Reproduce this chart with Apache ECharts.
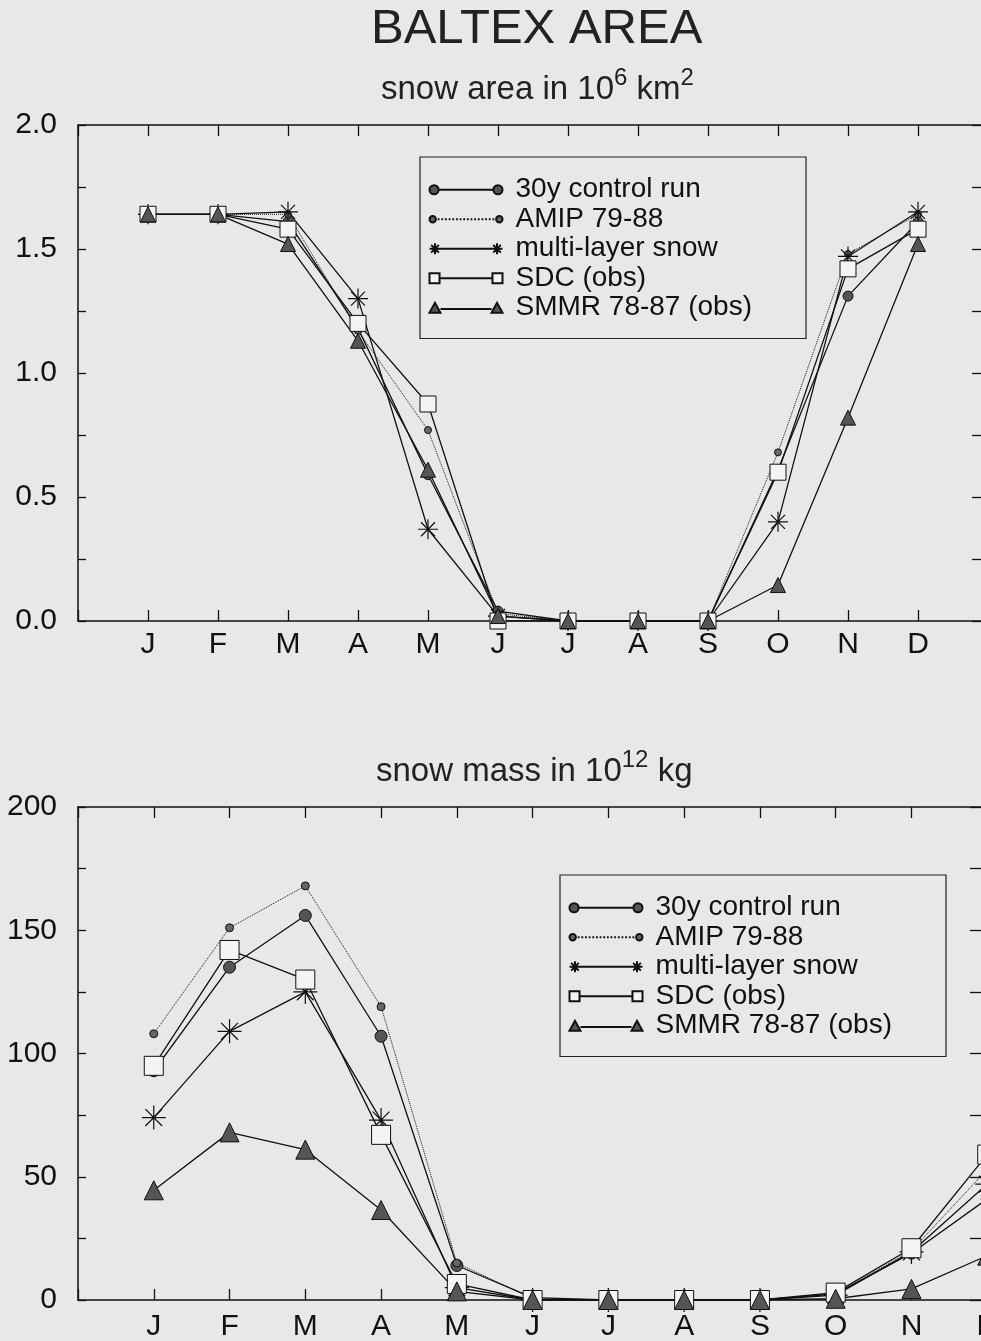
<!DOCTYPE html>
<html>
<head>
<meta charset="utf-8">
<title>BALTEX AREA</title>
<script src="https://cdn.jsdelivr.net/npm/echarts@6/dist/echarts.min.js"></script>
<style>
  html, body { margin: 0; padding: 0; background: #e8e8e8; }
  #main { width: 981px; height: 1341px; }
</style>
</head>
<body>
<div id="main"></div>
<script>
var months = ['J', 'F', 'M', 'A', 'M', 'J', 'J', 'A', 'S', 'O', 'N', 'D'];
var seriesNames = ['30y control run', 'AMIP 79-88', 'multi-layer snow', 'SDC (obs)', 'SMMR 78-87 (obs)'];

// snow area in 10^6 km2, J..D
var areaControl = [1.64, 1.64, 1.61, 1.18, 0.59, 0.04, 0, 0, 0, 0.61, 1.31, 1.61];
var areaAmip    = [1.64, 1.64, 1.64, 1.17, 0.77, 0.03, 0, 0, 0, 0.68, 1.48, 1.64];
var areaMulti   = [1.64, 1.64, 1.65, 1.30, 0.37, 0.02, 0, 0, 0, 0.40, 1.47, 1.65];
var areaSdc     = [1.64, 1.64, 1.58, 1.20, 0.875, 0.0, 0, 0, 0, 0.60, 1.42, 1.58];
var areaSmmr    = [1.64, 1.64, 1.52, 1.13, 0.61, 0.02, 0, 0, 0, 0.145, 0.82, 1.52];

// snow mass in 10^12 kg, J..D
var massControl = [93, 135, 156, 107, 14, 1, 0, 0, 0, 2.5, 19, 41];
var massAmip    = [108, 151, 168, 119, 15, 0.5, 0, 0, 0, 2.5, 20, 53];
var massMulti   = [74, 109, 125, 73, 5, 0, 0, 0, 0, 2, 19.5, 47];
var massSdc     = [95, 142, 130, 67, 6.5, 0, 0, 0, 0, 3, 21, 59];
var massSmmr    = [44.5, 68, 61, 36.5, 3.5, 0, 0, 0, 0, 0.5, 4.5, 18];

var font = 'Liberation Sans';
var ink = '#111';
var star = 'path://M10 0L10 20M0 10L20 10M3 3L17 17M3 17L17 3';

// legend icons: marker -- line -- marker, like the original key
var dots = '';
for (var d = 9; d < 71; d += 4) dots += 'M' + d + ' 8L' + (d + 2) + ' 8';
var legendIcons = [
  'path://M0 8a5 5 0 1 0 10 0a5 5 0 1 0 -10 0ZM10 8L70 8M70 8a5 5 0 1 0 10 0a5 5 0 1 0 -10 0Z',
  'path://M0 8a3.5 3.5 0 1 0 7 0a3.5 3.5 0 1 0 -7 0Z' + dots + 'M73 8a3.5 3.5 0 1 0 7 0a3.5 3.5 0 1 0 -7 0Z',
  'path://M6 2L6 14M0 8L12 8M1.8 3.8L10.2 12.2M1.8 12.2L10.2 3.8M12 8L68 8' +
    'M74 2L74 14M68 8L80 8M69.8 3.8L78.2 12.2M69.8 12.2L78.2 3.8',
  'path://M0 2.5L11 2.5L11 13.5L0 13.5ZM11 8L69 8M69 2.5L80 2.5L80 13.5L69 13.5Z',
  'path://M0 13L6 2L12 13ZM12 9L68 9M68 13L74 2L80 13Z'
];

// marker look per series: [symbol, size top, size bottom, fill]
var looks = [
  ['circle', 10, 12, '#555'],
  ['circle', 7, 8, '#666'],
  [star, 20, 24, 'none'],
  ['rect', 16, 19, '#f4f4f4'],
  ['triangle', 15, 19, '#555']
];

function pts(arr) {
  return arr.map(function (v, i) { return [i + 1, v]; });
}

function makeSeries(k, data, top) {
  var lk = looks[k];
  return {
    name: seriesNames[k],
    type: 'line',
    xAxisIndex: top ? 0 : 2,
    yAxisIndex: top ? 0 : 2,
    data: pts(data),
    symbol: lk[0],
    symbolSize: top ? lk[1] : lk[2],
    showAllSymbol: true,
    lineStyle: { color: ink, width: k === 1 ? 1 : 1.3, type: k === 1 ? 'dotted' : 'solid' },
    itemStyle: { color: lk[3], borderColor: ink, borderWidth: k === 2 ? 1.2 : 1 },
    emphasis: { disabled: true }
  };
}

var areaSets = [areaControl, areaAmip, areaMulti, areaSdc, areaSmmr];
var massSets = [massControl, massAmip, massMulti, massSdc, massSmmr];
var series = [];
for (var k = 0; k < 5; k++) series.push(makeSeries(k, areaSets[k], true));
for (var k = 0; k < 5; k++) series.push(makeSeries(k, massSets[k], false));

function monthLabel(v) {
  return (v >= 1 && v <= 12) ? months[v - 1] : '';
}

function xAx(grid, pos, margin) {
  return {
    type: 'value', gridIndex: grid, position: pos, min: 0, max: 13, interval: 1,
    axisLine: { onZero: false, lineStyle: { color: ink, width: 1.5 } },
    axisTick: { inside: true, length: 11, lineStyle: { color: ink, width: 1.3 } },
    axisLabel: pos === 'bottom'
      ? { margin: margin, formatter: monthLabel, fontFamily: font, fontSize: 30, color: ink }
      : { show: false },
    splitLine: { show: false }
  };
}

function yAx(grid, pos, max, step, major, dec, tickLen, offset) {
  return {
    type: 'value', gridIndex: grid, position: pos, offset: offset || 0,
    min: 0, max: max, interval: step,
    axisLine: { onZero: false, lineStyle: { color: ink, width: 1.5 } },
    axisTick: { inside: true, length: tickLen, lineStyle: { color: ink, width: 1.3 } },
    axisLabel: pos === 'left'
      ? {
          margin: 21, fontFamily: font, fontSize: 30, color: ink,
          formatter: function (v) {
            return Math.abs(v / major - Math.round(v / major)) < 1e-6 ? v.toFixed(dec) : '';
          }
        }
      : { show: false },
    splitLine: { show: false }
  };
}

function legendAt(left, top) {
  return {
    data: seriesNames.map(function (n, i) { return { name: n, icon: legendIcons[i] }; }),
    orient: 'vertical',
    left: left, top: top,
    padding: [18, 54, 16, 7],
    itemGap: 0,
    itemWidth: 73,
    itemHeight: 16,
    symbolKeepAspect: true,
    borderColor: '#222',
    borderWidth: 1.2,
    selectedMode: false,
    textStyle: { fontFamily: font, fontSize: 28, lineHeight: 29.5, color: ink, padding: [0, 0, 0, 8] }
  };
}

var supRich = {
  s: { fontFamily: font, fontSize: 24, color: '#222', verticalAlign: 'top', lineHeight: 24 }
};

var chart = echarts.init(document.getElementById('main'));
chart.setOption({
  animation: false,
  backgroundColor: '#e8e8e8',
  title: [
    {
      text: 'BALTEX AREA', left: 366, top: 0,
      textStyle: { fontFamily: font, fontSize: 49, fontWeight: 'normal', color: '#222' }
    },
    {
      text: 'snow area in 10{s|6} km{s|2}', left: 376, top: 61,
      textStyle: { fontFamily: font, fontSize: 33, fontWeight: 'normal', color: '#222', lineHeight: 48, rich: supRich }
    },
    {
      text: 'snow mass in 10{s|12} kg', left: 371, top: 743,
      textStyle: { fontFamily: font, fontSize: 33, fontWeight: 'normal', color: '#222', lineHeight: 48, rich: supRich }
    }
  ],
  legend: [legendAt(420, 157), legendAt(560, 875)],
  grid: [
    { left: 78, top: 125, width: 910, height: 496, outerBoundsMode: 'none' },
    { left: 78, top: 807, width: 985, height: 493, outerBoundsMode: 'none' }
  ],
  xAxis: [xAx(0, 'bottom', 9), xAx(0, 'top'), xAx(1, 'bottom', 12), xAx(1, 'top')],
  yAxis: [
    yAx(0, 'left', 2, 0.25, 0.5, 1, 8), yAx(0, 'right', 2, 0.25, 0.5, 1, 16),
    yAx(1, 'left', 200, 25, 50, 0, 8), yAx(1, 'right', 200, 25, 50, 0, 20, -73)
  ],
  series: series
});
</script>
</body>
</html>
